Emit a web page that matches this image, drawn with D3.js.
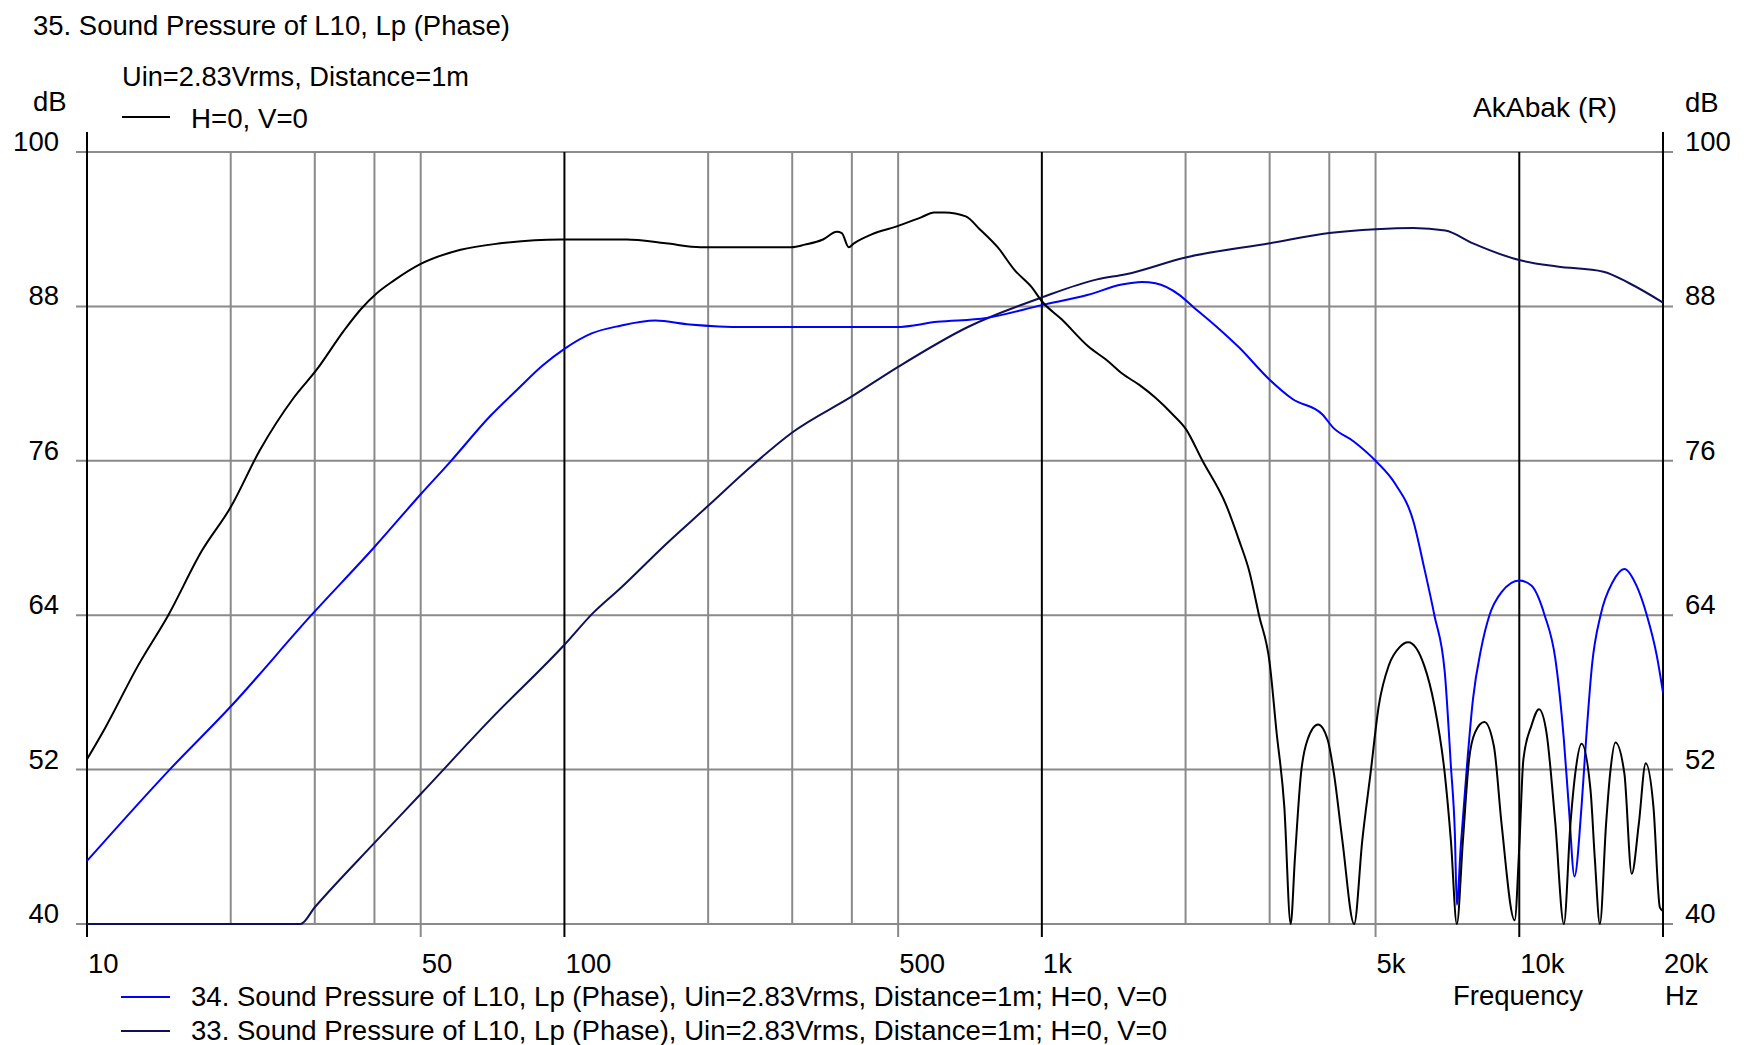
<!DOCTYPE html>
<html>
<head>
<meta charset="utf-8">
<script src="https://cdn.jsdelivr.net/npm/d3@7/dist/d3.min.js"></script>
<style>
  body { margin: 0; background: #fff; }
  svg text { font-family: "Liberation Sans", Arial, sans-serif; font-size: 27.5px; fill: #000; }
</style>
</head>
<body>
<svg id="chart" width="1750" height="1045"></svg>
<script>
// ---- Sound pressure level curves (frequency in Hz, level in dB) ----

// 35. H=0, V=0 (black)
const mainFreq = [10, 10.9, 12.8, 14.8, 17.4, 20, 23, 27.1, 30.3, 34.5, 37.5, 40.4, 43.9, 50, 60.6, 73.4, 98,
  135, 163, 193, 299, 319, 348, 372, 381, 394, 404, 440, 495, 557, 595, 626, 693, 741, 808, 878, 952, 1000,
  1100, 1250, 1380, 1470, 1600, 1730, 1880, 2000, 2170, 2430, 2590, 2720, 2850, 3000, 3100, 3220, 3320, 3390, 3490, 3600,
  3790, 3970, 4090, 4260, 4510, 4690, 4880, 5080, 5330, 5610, 5850, 6320, 6640, 6980, 7190, 7400, 7620, 7850,
  8080, 8450, 8850, 9180, 9780, 10000, 10200, 10600, 11000, 11400, 11900, 12400, 12800, 13100, 13500, 14100,
  14400, 14750, 15200, 15500, 15900, 16600, 17200, 17800, 18400, 19100, 19700, 20000];
const mainDb = [52.8, 55.2, 60.1, 64.0, 69.0, 72.4, 76.8, 80.9, 83.1, 86.1, 87.8, 89.0, 90.0, 91.3, 92.4, 92.9, 93.2,
  93.2, 92.9, 92.6, 92.6, 92.8, 93.2, 93.8, 93.7, 92.6, 92.9, 93.6, 94.2, 94.9, 95.3, 95.3, 95.0, 94.0, 92.6, 90.8, 89.5, 88.4,
  87.0, 84.9, 83.7, 82.8, 81.9, 80.9, 79.6, 78.5, 76.0, 72.6, 69.8, 67.4, 64.0, 60.3, 55.0, 49.1, 40.0, 45.2, 51.7, 54.3,
  55.5, 54.3, 51.7, 46.5, 40.0, 46.5, 51.7, 57.0, 60.1, 61.5, 61.9, 60.1, 57.0, 51.7, 46.5, 40.0, 46.5, 52.8,
  54.9, 55.7, 53.8, 47.8, 40.3, 46.0, 52.8, 55.4, 56.7, 54.9, 47.8, 40.0, 47.8, 51.7, 54.0, 50.4,
  45.0, 40.0, 47.8, 51.7, 54.1, 51.7, 43.9, 47.8, 52.5, 49.1, 41.3, 41.0];

// 34. (blue)
const blueFreq = [10, 14.9, 20, 29.5, 40, 50, 57.9, 70, 80, 90, 100, 114, 131, 155, 183, 240, 495, 604, 766, 1000,
  1250, 1470, 1620, 1730, 1940, 2070, 2310, 2590, 3000, 3350, 3870, 4070, 4500, 5000, 5500, 6000, 6320, 6640, 6980, 7190, 7330,
  7400, 7540, 7770, 8000, 8320, 8660, 9180, 10000, 10600, 11300, 11900, 12400, 12700, 13050, 13500, 13800,
  14200, 14800, 15700, 16600, 17600, 18500, 19400, 20000];
const blueDb = [44.9, 52.0, 56.9, 64.0, 69.3, 73.4, 76.0, 79.5, 81.6, 83.4, 84.7, 85.9, 86.5, 86.9, 86.6, 86.4, 86.4, 86.8, 87.1, 88.1,
  88.9, 89.7, 89.9, 89.8, 88.9, 88.0, 86.5, 84.8, 82.3, 80.8, 79.6, 78.6, 77.5, 76.0, 74.2, 71.3, 67.7, 64.0, 59.6, 52.3, 47.0,
  41.5, 46.0, 52.3, 57.5, 61.4, 64.0, 65.8, 66.7, 66.3, 64.0, 60.6, 54.3, 49.1, 43.7, 49.1, 54.3,
  60.1, 64.0, 66.6, 67.6, 66.3, 64.0, 60.9, 58.0];

// 33. (navy)
const navyFreq = [10, 28, 30, 40, 50, 70, 100, 115, 131, 164, 200, 245, 300, 400, 500, 700, 1000, 1306, 1500,
  2000, 3000, 4000, 5000, 6000, 7000, 8000, 10000, 12000, 15000, 17000, 20000];
const navyDb = [40, 40, 41.3, 46.3, 50.1, 55.9, 61.7, 64.2, 66.1, 69.6, 72.5, 75.5, 78.2, 81.0, 83.3, 86.4, 88.7, 90.1, 90.5,
  91.8, 92.9, 93.7, 94.0, 94.1, 93.9, 92.9, 91.6, 91.1, 90.7, 89.8, 88.3];

// ---- Axes ----
const dbTicks = [40, 52, 64, 76, 88, 100];
const minorFreqLines = [20, 30, 40, 50, 200, 300, 400, 500, 2000, 3000, 4000, 5000];
const decadeFreqLines = [100, 1000, 10000];
const freqTicks = [10, 50, 100, 500, 1000, 5000, 10000, 20000];
const freqTickLabels = ["10", "50", "100", "500", "1k", "5k", "10k", "20k"];

const legendTop = "H=0, V=0";
const legendBottom = [
  { text: "34. Sound Pressure of L10, Lp (Phase), Uin=2.83Vrms, Distance=1m; H=0, V=0", color: "#0000ff" },
  { text: "33. Sound Pressure of L10, Lp (Phase), Uin=2.83Vrms, Distance=1m; H=0, V=0", color: "#10105a" }
];

const svg = d3.select("#chart");
const plotLeft = 87, plotRight = 1663, plotTop = 152, plotBottom = 924;

const x = d3.scaleLog().domain([10, 20000]).range([plotLeft, plotRight]);
const y = d3.scaleLinear().domain([40, 100]).range([plotBottom, plotTop]);

const GRID = "#8a8a8a";

// horizontal grid lines, sticking out past both axes
svg.append("g").selectAll("line").data(dbTicks).join("line")
  .attr("x1", plotLeft - 11).attr("x2", plotRight + 10)
  .attr("y1", d => y(d)).attr("y2", d => y(d))
  .attr("stroke", GRID).attr("stroke-width", 2);

// minor vertical grid lines
svg.append("g").selectAll("line").data(minorFreqLines).join("line")
  .attr("x1", d => x(d)).attr("x2", d => x(d))
  .attr("y1", plotTop).attr("y2", plotBottom)
  .attr("stroke", GRID).attr("stroke-width", 2);

// labelled frequencies get a tick below the plot
svg.append("g").selectAll("line").data(freqTicks).join("line")
  .attr("x1", d => x(d)).attr("x2", d => x(d))
  .attr("y1", plotBottom).attr("y2", plotBottom + 13)
  .attr("stroke", d => decadeFreqLines.includes(d) || d === 10 || d === 20000 ? "#000" : GRID)
  .attr("stroke-width", 2);

// decade lines
svg.append("g").selectAll("line").data(decadeFreqLines).join("line")
  .attr("x1", d => x(d)).attr("x2", d => x(d))
  .attr("y1", plotTop).attr("y2", plotBottom)
  .attr("stroke", "#000").attr("stroke-width", 2);

// left and right axis lines
svg.append("g").selectAll("line").data([10, 20000]).join("line")
  .attr("x1", d => x(d)).attr("x2", d => x(d))
  .attr("y1", plotTop - 20).attr("y2", plotBottom + 13)
  .attr("stroke", "#000").attr("stroke-width", 2);

// dB labels on both sides
svg.append("g").selectAll("text").data(dbTicks).join("text")
  .attr("x", plotLeft - 28).attr("y", d => y(d) - 1)
  .attr("text-anchor", "end").text(d => d);
svg.append("g").selectAll("text").data(dbTicks).join("text")
  .attr("x", plotRight + 22).attr("y", d => y(d) - 1)
  .attr("text-anchor", "start").text(d => d);

// frequency labels
svg.append("g").selectAll("text").data(freqTicks).join("text")
  .attr("x", d => x(d) + 1).attr("y", 973)
  .attr("text-anchor", "start").text((d, i) => freqTickLabels[i]);

// curves
const line = d3.line().x(d => x(d[0])).y(d => y(d[1])).curve(d3.curveMonotoneX);
const series = [
  { f: navyFreq, v: navyDb, color: "#10105a" },
  { f: blueFreq, v: blueDb, color: "#0000ff" },
  { f: mainFreq, v: mainDb, color: "#000000" }
];
svg.append("g").selectAll("path").data(series).join("path")
  .attr("d", s => line(s.f.map((f, i) => [f, s.v[i]])))
  .attr("fill", "none").attr("stroke", s => s.color)
  .attr("stroke-width", 2).attr("stroke-linejoin", "round");

// titles and annotations
svg.append("text").attr("x", 33).attr("y", 35).attr("textLength", 477)
  .attr("lengthAdjust", "spacingAndGlyphs").text("35. Sound Pressure of L10, Lp (Phase)");
svg.append("text").attr("x", 122).attr("y", 86).attr("textLength", 347)
  .attr("lengthAdjust", "spacingAndGlyphs").text("Uin=2.83Vrms, Distance=1m");
svg.append("line").attr("x1", 122).attr("x2", 170).attr("y1", 117).attr("y2", 117)
  .attr("stroke", "#000").attr("stroke-width", 2);
svg.append("text").attr("x", 191).attr("y", 128).attr("textLength", 117)
  .attr("lengthAdjust", "spacingAndGlyphs").text(legendTop);
svg.append("text").attr("x", 33).attr("y", 111).text("dB");
svg.append("text").attr("x", 1685).attr("y", 112).text("dB");
svg.append("text").attr("x", 1473).attr("y", 117).attr("textLength", 144)
  .attr("lengthAdjust", "spacingAndGlyphs").text("AkAbak (R)");
svg.append("text").attr("x", 1518).attr("y", 1005).attr("text-anchor", "middle").text("Frequency");
svg.append("text").attr("x", 1665).attr("y", 1005).text("Hz");

// bottom legend
const lg = svg.append("g").selectAll("g").data(legendBottom).join("g")
  .attr("transform", (d, i) => `translate(0, ${i * 34})`);
lg.append("line").attr("x1", 121).attr("x2", 170).attr("y1", 997).attr("y2", 997)
  .attr("stroke", d => d.color).attr("stroke-width", 2);
lg.append("text").attr("x", 191).attr("y", 1006).attr("textLength", 976)
  .attr("lengthAdjust", "spacingAndGlyphs").text(d => d.text);
</script>
</body>
</html>
